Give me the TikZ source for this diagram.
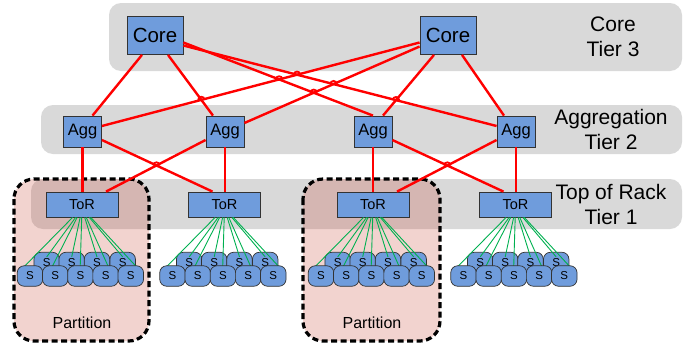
\documentclass[tikz,border=0pt]{standalone}
\usepackage{fontspec}
\setmainfont{Liberation Sans}
\usetikzlibrary{intersections,calc}
\definecolor{boxblue}{HTML}{6F9CDC}
\definecolor{bandgray}{HTML}{D9D9D9}
\definecolor{partred}{HTML}{C94837}
\definecolor{linkgreen}{HTML}{00B050}
\definecolor{edgedark}{HTML}{333333}
\tikzset{
  band/.style={fill=bandgray, rounded corners=12pt},
  partbox/.style={fill=partred, fill opacity=0.24, draw=black, draw opacity=1, line width=3.2pt, dash pattern=on 6pt off 3.5pt, rounded corners=20pt},
  netbox/.style={draw=edgedark, fill=boxblue, line width=0.8pt, inner sep=0pt},
  corebox/.style={netbox, minimum width=56pt, minimum height=38pt, font=\fontsize{20.5}{24}\selectfont},
  aggbox/.style={netbox, minimum width=38pt, minimum height=31pt, font=\fontsize{16.5}{20}\selectfont},
  torbox/.style={netbox, minimum width=72pt, minimum height=25pt, font=\fontsize{14.5}{17}\selectfont},
  server/.style={draw=edgedark, fill=boxblue, line width=0.7pt, inner sep=0pt, rounded corners=7pt, minimum width=25.5pt, minimum height=20.5pt, font=\fontsize{11.5}{13}\selectfont},
  redlink/.style={red, line width=2.4pt},
  greenlink/.style={linkgreen, line width=0.9pt},
  tierlabel/.style={align=center, font=\fontsize{21}{25}\selectfont},
  partlabel/.style={font=\fontsize{16}{19}\selectfont}
}
\newcommand{\hopmark}[1]{\draw[redlink, line width=1.8pt] ([xshift=-3.2pt]#1) .. controls ([xshift=-3.2pt,yshift=4.2pt]#1) and ([xshift=3.2pt,yshift=4.2pt]#1) .. ([xshift=3.2pt]#1);}
\begin{document}
\begin{tikzpicture}[x=1pt,y=-1pt]
\useasboundingbox (0,0) rectangle (689,346);
% tier bands
\fill[band] (109,3) rectangle (682,71);
\fill[band] (41,105) rectangle (682,154);
\fill[band] (31,179) rectangle (682,229);
% partitions
\draw[partbox] (14,179) rectangle (149,341);
\draw[partbox] (303,179) rectangle (440,341);
% nodes
\node[corebox] (c1) at (155,35.5) {Core};
\node[corebox] (c2) at (448,35.5) {Core};
\node[aggbox] (a1) at (82.5,131.5) {Agg};
\node[aggbox] (a2) at (225,131.5) {Agg};
\node[aggbox] (a3) at (373,131.5) {Agg};
\node[aggbox] (a4) at (516,131.5) {Agg};
\node[torbox] (t1) at (82,204.5) {ToR};
\node[torbox] (t2) at (224.5,204.5) {ToR};
\node[torbox] (t3) at (373,204.5) {ToR};
\node[torbox] (t4) at (515.5,204.5) {ToR};
% core-agg links
\draw[redlink, name path=e1] ([xshift=-13pt]c1.south) -- ([xshift=10pt]a1.north);
\draw[redlink, name path=e2] ([xshift=13pt]c1.south) -- ([xshift=-12pt]a2.north);
\draw[redlink, name path=e3] ([yshift=-7pt]c1.east) -- (a3.north);
\draw[redlink, name path=e4] ([yshift=-10pt]c1.east) -- ([yshift=5.5pt]a4.west);
\draw[redlink, name path=e5] ([yshift=-7pt]c2.west) -- ([yshift=5.5pt]a1.east);
\draw[redlink, name path=e6] ([yshift=-11pt]c2.west) -- ([yshift=8.5pt]a2.east);
\draw[redlink, name path=e7] ([xshift=-14pt]c2.south) -- ([xshift=10pt]a3.north);
\draw[redlink, name path=e8] ([xshift=14pt]c2.south) -- ([xshift=-12pt]a4.north);
% agg-tor links
\draw[redlink] (a1.south) -- (a1.south |- t1.north);
\draw[redlink, name path=f1] ([yshift=-8.5pt]a1.east) -- ([xshift=-12pt]t2.north);
\draw[redlink, name path=f2] ([yshift=-8.5pt]a2.west) -- ([xshift=24pt]t1.north);
\draw[redlink] (a2.south) -- (a2.south |- t2.north);
\draw[redlink] (a3.south) -- (a3.south |- t3.north);
\draw[redlink, name path=f3] ([yshift=-8.5pt]a3.east) -- ([xshift=-12pt]t4.north);
\draw[redlink, name path=f4] ([yshift=-8.5pt]a4.west) -- ([xshift=24pt]t3.north);
\draw[redlink] (a4.south) -- (a4.south |- t4.north);
% hops at crossings
\path[name intersections={of=e2 and e5, by=h1}];
\path[name intersections={of=e3 and e5, by=h2}];
\path[name intersections={of=e3 and e6, by=h3}];
\path[name intersections={of=e4 and e5, by=h4}];
\path[name intersections={of=e4 and e6, by=h5}];
\path[name intersections={of=e4 and e7, by=h6}];
\path[name intersections={of=f1 and f2, by=h7}];
\path[name intersections={of=f3 and f4, by=h8}];
\foreach \h in {h1,h2,h3,h4,h5,h6,h7,h8}{\hopmark{\h}}
% servers
\foreach \g/\cx in {1/82,2/224.5,3/373,4/515.5}{
  \foreach \i/\dx in {1/-35.3,2/-10.3,3/15,4/40.7}{
    \node[server] (b\g\i) at (\cx+\dx,262.5) {S};
  }
  \foreach \i/\dx in {1/-35.3,2/-10.3,3/15,4/40.7}{
    \draw[greenlink] ([xshift={0.18*\dx}]t\g.south) -- ([yshift=-5pt]b\g\i.north);
  }
  \foreach \i/\dx in {1/-52,2/-26.8,3/-1.6,4/23.6,5/48.8}{
    \draw[greenlink] ([xshift={0.18*\dx}]t\g.south) -- ([xshift={0.12*\dx},yshift=-1pt]\cx+\dx,266);
  }
  \foreach \i/\dx in {1/-52,2/-26.8,3/-1.6,4/23.6,5/48.8}{
    \node[server] (s\g\i) at (\cx+\dx,276) {S};
  }
}
% labels
\node[tierlabel] (l3) at (613,36.5) {Core\\Tier 3};
\node[tierlabel] (l2) at (611,129.5) {Aggregation\\Tier 2};
\node[tierlabel] (l1) at (611,204) {Top of Rack\\Tier 1};
\node[partlabel] (p1) at (82,323) {Partition};
\node[partlabel] (p2) at (372,323) {Partition};
\end{tikzpicture}
\end{document}
